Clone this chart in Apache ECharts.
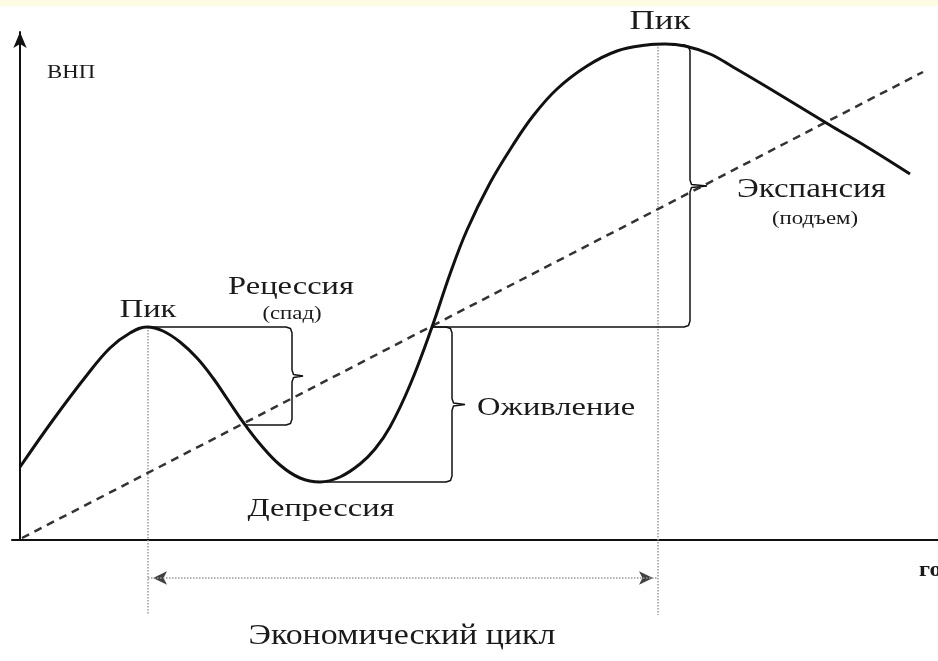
<!DOCTYPE html>
<html>
<head>
<meta charset="utf-8">
<script src="https://cdn.jsdelivr.net/npm/echarts@6/dist/echarts.min.js"></script>
<style>
html,body{margin:0;padding:0;background:#fff}
#main{width:938px;height:661px}
</style>
</head>
<body>
<div id="main"></div>
<script>
// ВНП во времени (условные единицы)
var gnpX = [0, 33, 67, 90, 110, 127, 143, 160, 177, 193, 208, 223, 240, 260, 280, 300, 320, 340, 355, 370, 390, 412,
            430, 447, 470, 493, 513, 537, 567, 597, 627, 645, 665, 690, 713, 747, 780, 813, 847, 890];
var gnpY = [73, 120, 165, 192, 207, 213, 209, 198, 182, 162, 140, 118, 96, 75, 62, 58, 63, 76, 91, 113, 155, 213,
            266, 310, 357, 395, 424, 451, 474, 489, 495, 496, 494, 486, 473, 453, 433, 413, 393, 366];
// тренд
var trendX = [2, 903];
var trendY = [2, 468];
// пики и фазы
var peakX = [128, 638];
var peakY = [213, 496];
var troughX = 300, troughY = 58;
var recessionEndX = 225, recessionEndY = 115;
var crossX = 412;
var cycleY = -38;

function zip(xs, ys) {
    var out = [];
    for (var i = 0; i < xs.length; i++) out.push([xs[i], ys[i]]);
    return out;
}

// фигурная скобка вдоль вертикали x, носик вправо
function brace(x, yTop, yBot, tip) {
    var r = 6, mid = (yTop + yBot) / 2;
    return [
        [x - r, yTop], [x - 1.5, yTop - 1.5], [x, yTop - r],
        [x, mid + r], [x + 1.5, mid + 1.5], [x + tip, mid], [x + 1.5, mid - 1.5], [x, mid - r],
        [x, yBot + r], [x - 1.5, yBot + 1.5], [x - r, yBot]
    ];
}

var recessionBrace = [[peakX[0], peakY[0]]].concat(brace(272, peakY[0], recessionEndY, 11), [[recessionEndX, recessionEndY]]);
var revivalBrace = [[crossX, peakY[0]]].concat(brace(432, peakY[0], troughY, 13), [[troughX, troughY]]);
var expansionBrace = [[peakX[1] + 14, 495]].concat(brace(670, 495, peakY[0], 17), [[crossX, peakY[0]]]);

var braceStyle = { color: '#111', width: 1.5 };
var font = '"Liberation Serif", "DejaVu Serif", serif';

function txt(text, x, y, size, align, sx, weight) {
    return {
        type: 'text', x: x, y: y, scaleX: sx || 1.25,
        style: {
            text: text, fill: '#1a1a1a', font: (weight || 'normal') + ' ' + size + 'px ' + font,
            textAlign: align || 'center', textVerticalAlign: 'middle'
        }
    };
}

var mychart = echarts.init(document.getElementById('main'));
var option = {
    backgroundColor: '#fff',
    animation: false,
    grid: { left: 12, right: 0, top: 32, bottom: 121 },
    xAxis: {
        type: 'value', min: -8, max: 918,
        axisLine: { show: true, onZero: true, lineStyle: { color: '#111', width: 2 } },
        axisTick: { show: false }, axisLabel: { show: false }, splitLine: { show: false }
    },
    yAxis: {
        type: 'value', min: 0, max: 508,
        axisLine: { show: true, onZero: true, symbol: ['none', 'arrow'], symbolSize: [10, 16], lineStyle: { color: '#111', width: 2 } },
        axisTick: { show: false }, axisLabel: { show: false }, splitLine: { show: false }
    },
    series: [
        {   // пунктирные вертикали от пиков
            type: 'line', symbol: 'none', clip: false, silent: true,
            data: [[peakX[0], peakY[0]], [peakX[0], -75]],
            lineStyle: { color: '#9a9a9a', width: 1.5, type: 'dotted' }
        },
        {
            type: 'line', symbol: 'none', clip: false, silent: true,
            data: [[peakX[1], peakY[1]], [peakX[1], -75]],
            lineStyle: { color: '#9a9a9a', width: 1.5, type: 'dotted' }
        },
        {   // тренд
            type: 'line', symbol: 'none', data: zip(trendX, trendY),
            lineStyle: { color: '#333', width: 2.5, type: [8, 6] }
        },
        {   // ВНП
            type: 'line', symbol: 'none', smooth: 0.4, data: zip(gnpX, gnpY),
            lineStyle: { color: '#111', width: 3 }
        },
        { type: 'line', symbol: 'none', data: recessionBrace, lineStyle: braceStyle },
        { type: 'line', symbol: 'none', data: revivalBrace, lineStyle: braceStyle },
        { type: 'line', symbol: 'none', data: expansionBrace, lineStyle: braceStyle },
        {   // экономический цикл
            type: 'line', symbol: 'none', clip: false,
            data: [[peakX[0], cycleY], [peakX[1], cycleY]],
            lineStyle: { color: '#999', width: 1.5, type: 'dotted' }
        },
        {
            type: 'scatter', clip: false, symbol: 'arrow', symbolSize: [10, 14],
            data: [
                { value: [peakX[0] + 5, cycleY], symbolRotate: 90 },
                { value: [peakX[1] - 5, cycleY], symbolRotate: -90 }
            ],
            itemStyle: { color: '#111' }
        }
    ],
    graphic: [
        { type: 'rect', left: 0, top: 0, shape: { width: 938, height: 6 }, style: { fill: '#fdfbe2' } },
        txt('ВНП', 47, 73, 19, 'left', 1.2),
        txt('Пик', 148, 310, 26),
        txt('Пик', 660, 22, 28),
        txt('Рецессия', 291, 287, 26),
        txt('(спад)', 292, 314, 19, 'center', 1.2),
        txt('Депрессия', 321, 509, 26),
        txt('Оживление', 477, 408, 26, 'left'),
        txt('Экспансия', 737, 190, 27, 'left', 1.22),
        txt('(подъем)', 815, 219, 19, 'center', 1.2),
        txt('Экономический цикл', 402, 636, 30, 'center', 1.13),
        txt('годы', 919, 570, 22, 'left', 1.1, 'bold')
    ]
};
mychart.setOption(option);
</script>
</body>
</html>
